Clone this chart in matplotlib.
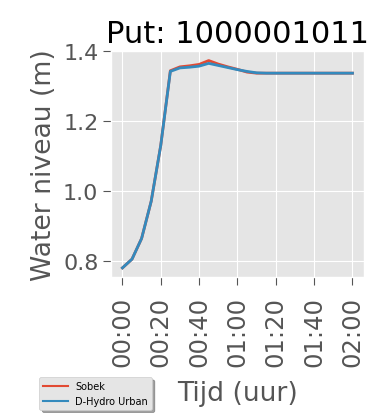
import matplotlib
matplotlib.use("Agg")
import matplotlib.pyplot as plt

plt.style.use("ggplot")
plt.rcParams["font.size"] = 16

# tijd in minuten
tijd = [0, 5, 10, 15, 20, 25, 30, 35, 40, 45, 50, 55, 60, 65, 70, 75, 80,
        85, 90, 95, 100, 105, 110, 115, 120]
sobek = [0.780, 0.805, 0.864, 0.970, 1.130, 1.343, 1.354, 1.357, 1.361, 1.372,
         1.362, 1.354, 1.347, 1.339, 1.336, 1.336, 1.336, 1.336, 1.336, 1.336,
         1.336, 1.336, 1.336, 1.336, 1.336]
dhydro = [0.780, 0.805, 0.864, 0.970, 1.130, 1.341, 1.351, 1.353, 1.356, 1.364,
          1.358, 1.352, 1.346, 1.341, 1.337, 1.336, 1.336, 1.336, 1.336, 1.336,
          1.336, 1.336, 1.336, 1.336, 1.336]
tick_pos = [0, 20, 40, 60, 80, 100, 120]
tick_labels = ["00:00", "00:20", "00:40", "01:00", "01:20", "01:40", "02:00"]

fig = plt.figure(figsize=(3.76, 4.14), dpi=100)
fig.patch.set_facecolor("white")
ax = fig.add_subplot(111)
fig.subplots_adjust(left=0.295, right=0.968, bottom=0.3285, top=0.875)

ax.plot(tijd, sobek, color="#E24A33", lw=2, label="Sobek")
ax.plot(tijd, dhydro, color="#348ABD", lw=2, label="D-Hydro Urban")

ax.set_xticks(tick_pos)
ax.set_xticklabels(tick_labels, rotation=90)
ax.tick_params(axis="x", labelsize=17.5, length=5.5, pad=8)
ax.tick_params(axis="y", length=5.5)
ax.set_ylim(0.754, 1.40)
ax.set_yticks([0.8, 1.0, 1.2, 1.4])
ax.set_title("Put: 1000001011", fontsize=22)
ax.set_xlabel("Tijd (uur)", labelpad=10)
ax.set_ylabel("Water niveau (m)")

leg = fig.legend(loc="lower left", bbox_to_anchor=(0.092, -0.004), fontsize=7,
                 shadow=True, frameon=True, handlelength=2.5)
for line in leg.get_lines():
    line.set_linewidth(1.5)

fig.savefig("out.png", dpi=100)
